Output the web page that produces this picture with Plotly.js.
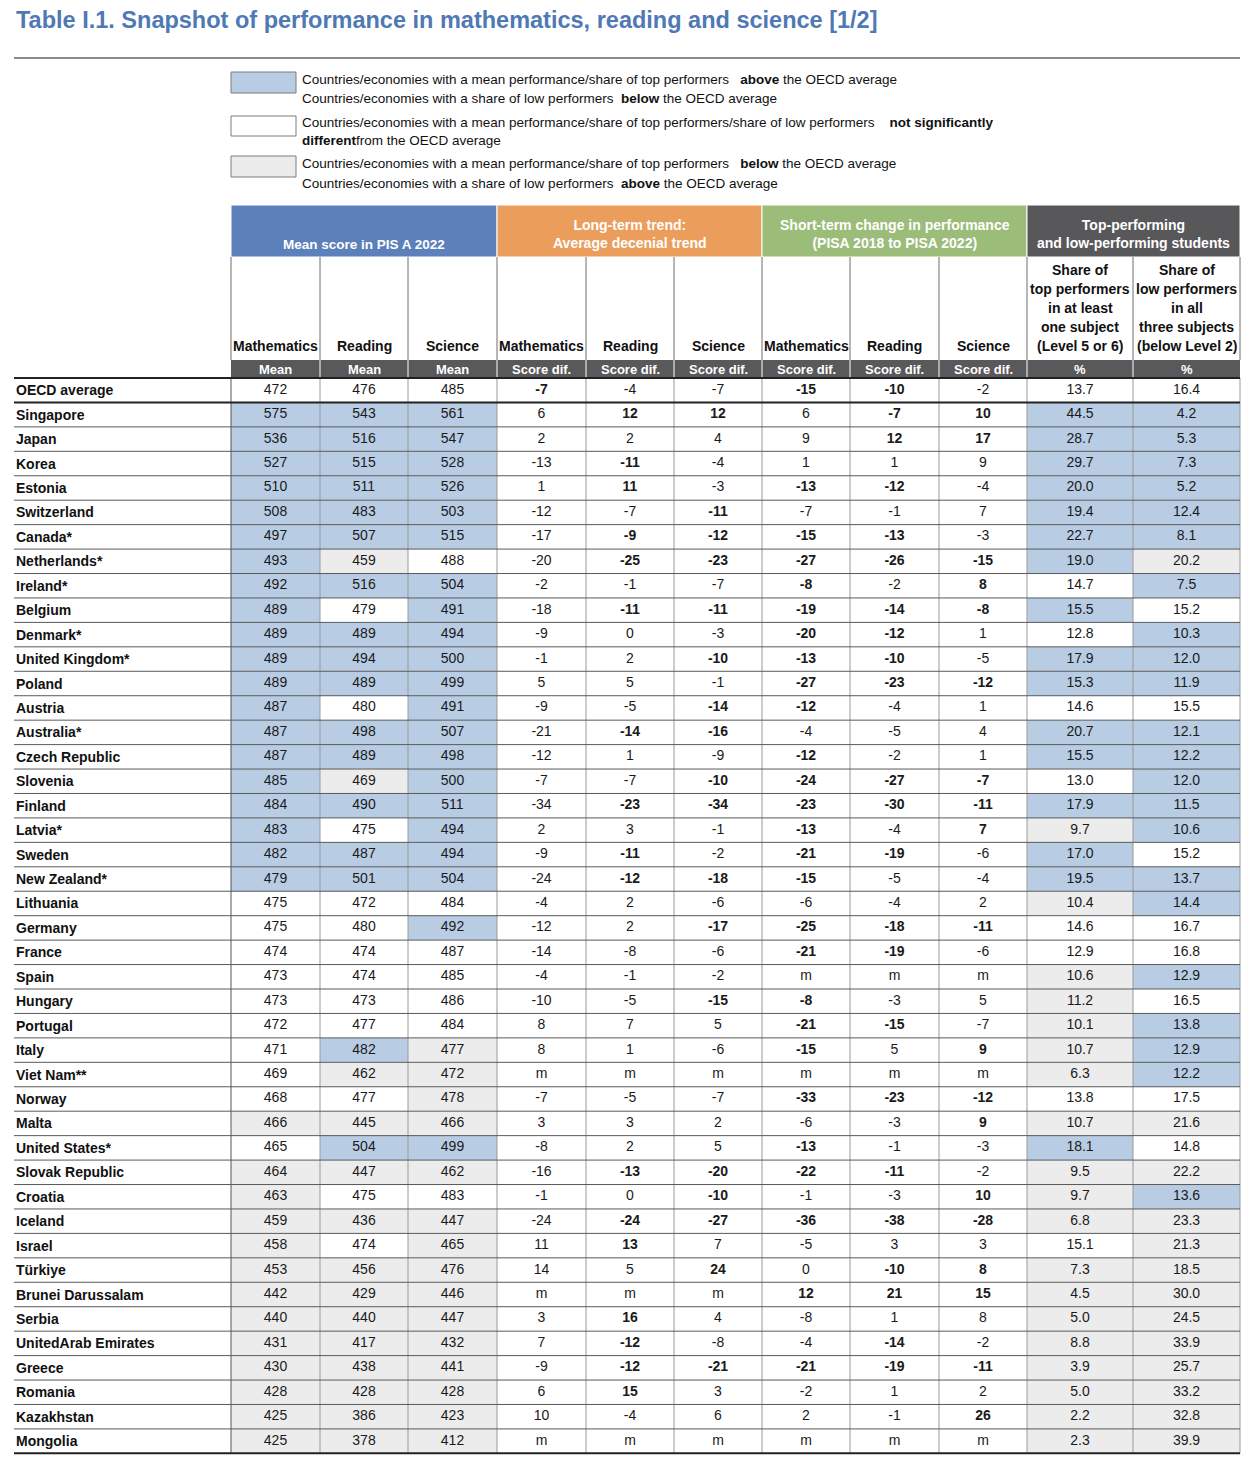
<!DOCTYPE html>
<html>
<head>
<meta charset="utf-8">
<script src="https://cdn.plot.ly/plotly-3.0.1.min.js"></script>
<style>
body { margin: 0; background: #fff; }
#chart { width: 1250px; height: 1461px; }
</style>
</head>
<body>
<div id="chart"></div>
<script>
var countries = ['OECD average','Singapore','Japan','Korea','Estonia','Switzerland','Canada*','Netherlands*','Ireland*','Belgium',
  'Denmark*','United Kingdom*','Poland','Austria','Australia*','Czech Republic','Slovenia','Finland','Latvia*','Sweden',
  'New Zealand*','Lithuania','Germany','France','Spain','Hungary','Portugal','Italy','Viet Nam**','Norway',
  'Malta','United States*','Slovak Republic','Croatia','Iceland','Israel','Türkiye','Brunei Darussalam','Serbia','UnitedArab Emirates',
  'Greece','Romania','Kazakhstan','Mongolia'];

var meanMath = [472,575,536,527,510,508,497,493,492,489,489,489,489,487,487,487,485,484,483,482,479,475,475,474,473,473,472,471,469,468,466,465,464,463,459,458,453,442,440,431,430,428,425,425];
var meanRead = [476,543,516,515,511,483,507,459,516,479,489,494,489,480,498,489,469,490,475,487,501,472,480,474,474,473,477,482,462,477,445,504,447,475,436,474,456,429,440,417,438,428,386,378];
var meanSci  = [485,561,547,528,526,503,515,488,504,491,494,500,499,491,507,498,500,511,494,494,504,484,492,487,485,486,484,477,472,478,466,499,462,483,447,465,476,446,447,432,441,428,423,412];

// a = above OECD average, n = not significantly different, b = below
var meanMathCat = ('n' + 'aaaaaaaaaaaaaaaaaaaa' + 'nnnnnnnnn' + 'b' + 'n' + 'bbbbbbbbbbbb').split('');
var meanReadCat = ('naaaaaabanaaanaabanaa' + 'nnnnnn' + 'abnbabnbn' + 'bbbbbbbb').split('');
var meanSciCat  = ('n' + 'aaaaaa' + 'n' + 'aaaaaaaaaaaaa' + 'n' + 'a' + 'nnnn' + 'bbbb' + 'a' + 'b' + 'n' + 'bbbbbbbbbb').split('');

var trendMath = [-7,6,2,-13,1,-12,-17,-20,-2,-18,-9,-1,5,-9,-21,-12,-7,-34,2,-9,-24,-4,-12,-14,-4,-10,8,8,'m',-7,3,-8,-16,-1,-24,11,14,'m',3,7,-9,6,10,'m'];
var trendRead = [-4,12,2,-11,11,-7,-9,-25,-1,-11,0,2,5,-5,-14,1,-7,-23,3,-11,-12,2,2,-8,-1,-5,7,1,'m',-5,3,2,-13,0,-24,13,5,'m',16,-12,-12,15,-4,'m'];
var trendSci  = [-7,12,4,-4,-3,-11,-12,-23,-7,-11,-3,-10,-1,-14,-16,-9,-10,-34,-1,-2,-18,-6,-17,-6,-2,-15,5,-6,'m',-7,2,5,-20,-10,-27,7,24,'m',4,-8,-21,3,6,'m'];
var changeMath = [-15,6,9,1,-13,-7,-15,-27,-8,-19,-20,-13,-27,-12,-4,-12,-24,-23,-13,-21,-15,-6,-25,-21,'m',-8,-21,-15,'m',-33,-6,-13,-22,-1,-36,-5,0,12,-8,-4,-21,-2,2,'m'];
var changeRead = [-10,-7,12,1,-12,-1,-13,-26,-2,-14,-12,-10,-23,-4,-5,-2,-27,-30,-4,-19,-5,-4,-18,-19,'m',-3,-15,5,'m',-23,-3,-1,-11,-3,-38,3,-10,21,1,-14,-19,1,-1,'m'];
var changeSci  = [-2,10,17,9,-4,7,-3,-15,8,-8,1,-5,-12,1,4,1,-7,-11,7,-6,-4,2,-11,-6,'m',5,-7,9,'m',-12,9,-3,-2,10,-28,3,8,15,8,-2,-11,2,26,'m'];

// 1 = statistically significant (bold)
var trendMathSig  = ('1' + '0000000000000000000000000000000000000000000').split('');
var trendReadSig  = ('0101101101' + '0000100101' + '1000000000' + '0010110011' + '1100').split('');
var trendSciSig   = ('0100011101' + '0101101100' + '1010010000' + '0011101000' + '1000').split('');
var changeMathSig = ('1000101111' + '1111011111' + '1011011101' + '0110100100' + '1000').split('');
var changeReadSig = ('1110101101' + '1110001101' + '0011001001' + '0010101101' + '1000').split('');
var changeSciSig  = ('0110000111' + '0010001110' + '0010000101' + '1001101100' + '1010').split('');

var topShare = [13.7,44.5,28.7,29.7,20.0,19.4,22.7,19.0,14.7,15.5,12.8,17.9,15.3,14.6,20.7,15.5,13.0,17.9,9.7,17.0,19.5,10.4,14.6,12.9,10.6,11.2,10.1,10.7,6.3,13.8,10.7,18.1,9.5,9.7,6.8,15.1,7.3,4.5,5.0,8.8,3.9,5.0,2.2,2.3];
var lowShare = [16.4,4.2,5.3,7.3,5.2,12.4,8.1,20.2,7.5,15.2,10.3,12.0,11.9,15.5,12.1,12.2,12.0,11.5,10.6,15.2,13.7,14.4,16.7,16.8,12.9,16.5,13.8,12.9,12.2,17.5,21.6,14.8,22.2,13.6,23.3,21.3,18.5,30.0,24.5,33.9,25.7,33.2,32.8,39.9];
var topShareCat = ('naaaaaaa' + 'n' + 'a' + 'n' + 'aa' + 'n' + 'aa' + 'n' + 'a' + 'b' + 'aa' + 'b' + 'nn' + 'bbbbb' + 'n' + 'b' + 'a' + 'bbb' + 'n' + 'bbbbbbbb').split('');
var lowShareCat = ('nbbbbbb' + 'a' + 'b' + 'n' + 'bbb' + 'n' + 'bbbbb' + 'n' + 'bb' + 'nn' + 'b' + 'n' + 'bbb' + 'n' + 'a' + 'n' + 'a' + 'b' + 'aaaaaaaaaa').split('');

var subjects = ['Mathematics','Reading','Science'];
var groupTitles = ['Mean score in PIS A 2022', 'Long-term trend:<br>Average decenial trend',
  'Short-term change in performance<br>(PISA 2018 to PISA 2022)', 'Top-performing<br>and low-performing students'];
var unitLabels = ['Mean','Mean','Mean','Score dif.','Score dif.','Score dif.','Score dif.','Score dif.','Score dif.','%','%'];
var topHead = ['Share of','top performers','in at least','one subject','(Level 5 or 6)'];
var lowHead = ['Share of','low performers','in all','three subjects','(below Level 2)'];

// ---- geometry and style ----
var BLUE = '#b8cce4', GREY = '#ececec';
var FONT = "'Liberation Sans', Arial, sans-serif";
var colEdges = [231,320,408,497,586,674,762,850,939,1027,1133,1240];
var leftX = 14, rightX = 1240;
var rowTop = 378, rowH = 24.44;
var n = countries.length;
var rowY = countries.map(function (c, i) { return rowTop + (i + 0.5) * rowH; });
var tableBottom = rowTop + n * rowH;
function colMid(j) { return (colEdges[j] + colEdges[j + 1]) / 2; }

var columns = [
  {vals: meanMath, cat: meanMathCat},
  {vals: meanRead, cat: meanReadCat},
  {vals: meanSci, cat: meanSciCat},
  {vals: trendMath, sig: trendMathSig},
  {vals: trendRead, sig: trendReadSig},
  {vals: trendSci, sig: trendSciSig},
  {vals: changeMath, sig: changeMathSig},
  {vals: changeRead, sig: changeReadSig},
  {vals: changeSci, sig: changeSciSig},
  {vals: topShare, cat: topShareCat, dec: 1},
  {vals: lowShare, cat: lowShareCat, dec: 1, lowIsGood: true}
];

var shapes = [], annotations = [], traces = [];

function ann(x, y, text, size, color, anchor) {
  annotations.push({x: x, y: y, xref: 'x', yref: 'y', text: text, showarrow: false,
    xanchor: anchor || 'center', yanchor: 'middle', align: anchor === 'left' ? 'left' : 'center',
    font: {family: FONT, size: size, color: color}});
}
function rect(x0, x1, y0, y1, fill, lineColor, lw) {
  shapes.push({type: 'rect', xref: 'x', yref: 'y', x0: x0, x1: x1, y0: y0, y1: y1, layer: 'below',
    fillcolor: fill, line: {color: lineColor || 'rgba(0,0,0,0)', width: lw || 0}});
}
function line(x0, x1, y0, y1, color, w) {
  shapes.push({type: 'line', xref: 'x', yref: 'y', x0: x0, x1: x1, y0: y0, y1: y1, layer: 'below',
    line: {color: color, width: w}});
}

// title and rule
ann(leftX, 20, '<b>Table I.1. Snapshot of performance in mathematics, reading and science [1/2]</b>', 23.5, '#4f79b4', 'left');
line(leftX, rightX, 58, 58, '#8c8c8c', 2);

// legend
var legendItems = [
  {fill: BLUE, y0: 72, y1: 93, lines: [
    'Countries/economies with a mean performance/share of top performers\u00a0\u00a0\u00a0<b>above</b> the OECD average',
    'Countries/economies with a share of low performers\u00a0\u00a0<b>below</b> the OECD average'], ly: [79, 98]},
  {fill: '#ffffff', y0: 116, y1: 136, lines: [
    'Countries/economies with a mean performance/share of top performers/share of low performers\u00a0\u00a0\u00a0\u00a0<b>not significantly</b>',
    '<b>different</b>from the OECD average'], ly: [122, 140]},
  {fill: GREY, y0: 156, y1: 177, lines: [
    'Countries/economies with a mean performance/share of top performers\u00a0\u00a0\u00a0<b>below</b> the OECD average',
    'Countries/economies with a share of low performers\u00a0\u00a0<b>above</b> the OECD average'], ly: [163, 183]}
];
legendItems.forEach(function (it) {
  rect(231, 296, it.y0, it.y1, it.fill, '#7d7d7d', 1);
  it.lines.forEach(function (t, k) { ann(300, it.ly[k], t, 13.5, '#111', 'left'); });
});

// group header band
var groupColors = ['#5b80ba', '#eb9d5c', '#9cbc7a', '#58585a'];
var groupSpans = [[0, 3], [3, 6], [6, 9], [9, 11]];
groupSpans.forEach(function (s, g) {
  var x0 = colEdges[s[0]], x1 = colEdges[s[1]];
  rect(x0, x1, 205, 257, groupColors[g], '#ffffff', 1);
  var single = groupTitles[g].indexOf('<br>') < 0;
  ann((x0 + x1) / 2, single ? 244 : 234, '<b>' + groupTitles[g] + '</b>', single ? 13.5 : 14, '#ffffff');
});

// column headers
for (var j = 0; j < 9; j++) {
  ann(colMid(j), 346, '<b>' + subjects[j % 3] + '</b>', 14, '#111');
}
[topHead, lowHead].forEach(function (lines, k) {
  lines.forEach(function (t, r) { ann(colMid(9 + k), 270 + r * 19, '<b>' + t + '</b>', 14, '#111'); });
});
colEdges.forEach(function (x) { line(x, x, 257, 360, '#6e6e6e', 1); });

// unit row
rect(colEdges[0], rightX, 360, rowTop, '#59595b');
unitLabels.forEach(function (t, j) { ann(colMid(j), 369, '<b>' + t + '</b>', 13, '#ffffff'); });
colEdges.slice(1, -1).forEach(function (x) { line(x, x, 360, rowTop, '#ffffff', 1); });

// body shading
columns.forEach(function (col, j) {
  if (!col.cat) return;
  col.cat.forEach(function (c, i) {
    if (c === 'n') return;
    var good = col.lowIsGood ? (c === 'b') : (c === 'a');
    rect(colEdges[j], colEdges[j + 1], rowTop + i * rowH, rowTop + (i + 1) * rowH, good ? BLUE : GREY);
  });
});

// grid lines
colEdges.forEach(function (x, k) {
  line(x, x, rowTop, tableBottom, k === 0 ? '#555' : '#9a9a9a', 1);
});
for (var i = 1; i < n; i++) {
  var y = rowTop + i * rowH;
  line(leftX, rightX, y, y, i === 1 ? '#222' : '#5a5a5a', i === 1 ? 2 : 1);
}
line(leftX, rightX, rowTop, rowTop, '#222', 2);
line(leftX, rightX, tableBottom, tableBottom, '#222', 2);

// country names
countries.forEach(function (c, i) { ann(leftX, rowY[i], '<b>' + c + '</b>', 14, '#111', 'left'); });

// cell values
columns.forEach(function (col, j) {
  var txt = col.vals.map(function (v, i) {
    var s = (typeof v === 'number' && col.dec) ? v.toFixed(col.dec) : String(v);
    return (col.sig && col.sig[i] === '1') ? '<b>' + s + '</b>' : s;
  });
  traces.push({
    type: 'scatter', mode: 'text',
    x: col.vals.map(function () { return colMid(j); }),
    y: rowY, text: txt, textposition: 'middle center',
    textfont: {family: FONT, size: 14, color: '#1a1a1a'},
    hoverinfo: 'skip', showlegend: false, cliponaxis: false
  });
});

var layout = {
  width: 1250, height: 1461,
  margin: {l: 0, r: 0, t: 0, b: 0},
  paper_bgcolor: '#ffffff', plot_bgcolor: '#ffffff',
  xaxis: {range: [0, 1250], visible: false, fixedrange: true},
  yaxis: {range: [1461, 0], visible: false, fixedrange: true},
  shapes: shapes, annotations: annotations, showlegend: false
};

Plotly.newPlot('chart', traces, layout, {staticPlot: true});
</script>
</body>
</html>
